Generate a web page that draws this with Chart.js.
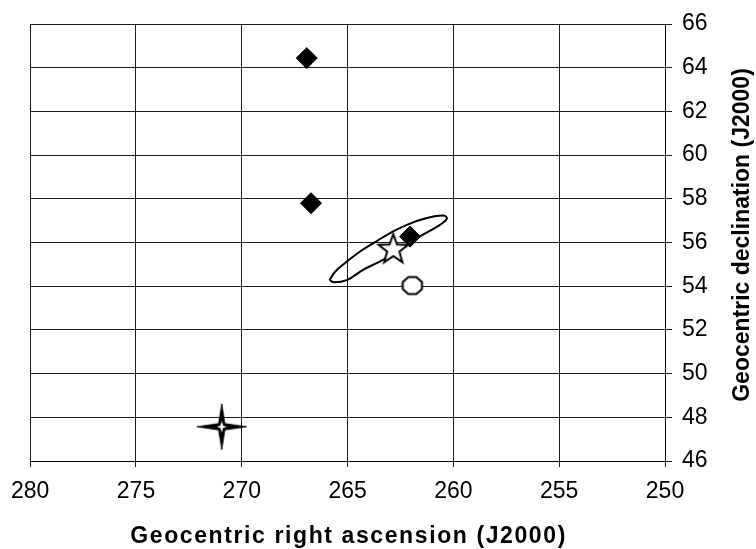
<!DOCTYPE html>
<html>
<head>
<meta charset="utf-8">
<script src="https://cdn.jsdelivr.net/npm/chart.js@4.4.1/dist/chart.umd.min.js"></script>
<style>
  html, body { margin: 0; padding: 0; background: #fff; }
  #wrap { width: 756px; height: 549px; }
</style>
</head>
<body>
<div id="wrap"><canvas id="c" width="756" height="549"></canvas></div>
<script>
// ---- data ----
const raTicks = [280, 275, 270, 265, 260, 255, 250];
const decTicks = [66, 64, 62, 60, 58, 56, 54, 52, 50, 48, 46];

const diamondRA  = [266.93, 266.73, 262.05];
const diamondDec = [64.44, 57.80, 56.27];

const starRA  = [262.84];
const starDec = [55.74];

const octRA  = [261.94];
const octDec = [54.03];

const crossRA  = [270.95];
const crossDec = [47.57];

const ellipseRA  = [265.85, 265.59, 265.12, 264.41, 263.70, 262.99, 262.20, 261.26, 260.47, 260.31, 260.63, 261.58, 262.52, 263.46, 264.25, 265.04, 265.64, 265.85];
const ellipseDec = [54.28, 54.66, 55.06, 55.59, 56.02, 56.43, 56.81, 57.12, 57.24, 57.09, 56.81, 56.28, 55.67, 55.14, 54.76, 54.28, 54.18, 54.28];

const xTitle = 'Geocentric right ascension (J2000)';
const yTitle = 'Geocentric declination (J2000)';

// ---- helpers ----
function pts(xs, ys) { return xs.map((x, i) => ({ x: x, y: ys[i] })); }

function makeCanvas(w, h, drawFn) {
  const cv = document.createElement('canvas');
  cv.width = w; cv.height = h;
  const g = cv.getContext('2d');
  drawFn(g, w / 2, h / 2);
  return cv;
}

function fourStar(g, cx, cy, Rx, Ry, r) {
  g.beginPath();
  g.moveTo(cx, cy - Ry);
  g.lineTo(cx + r, cy - r);
  g.lineTo(cx + Rx, cy);
  g.lineTo(cx + r, cy + r);
  g.lineTo(cx, cy + Ry);
  g.lineTo(cx - r, cy + r);
  g.lineTo(cx - Rx, cy);
  g.lineTo(cx - r, cy - r);
  g.closePath();
}

// 5-point outlined star
const starImg = makeCanvas(36, 36, (g, cx, cy) => {
  const R = 15.5, r = 6.4;
  g.beginPath();
  for (let i = 0; i < 10; i++) {
    const rad = (i % 2 === 0) ? R : r;
    const a = -Math.PI / 2 + i * Math.PI / 5;
    const px = cx + rad * Math.cos(a), py = cy + 1.5 + rad * Math.sin(a);
    if (i === 0) g.moveTo(px, py); else g.lineTo(px, py);
  }
  g.closePath();
  g.fillStyle = '#fff'; g.fill();
  g.lineWidth = 2; g.strokeStyle = '#000'; g.lineJoin = 'miter'; g.stroke();
});

// octagon
const octImg = makeCanvas(24, 22, (g, cx, cy) => {
  const rx = 9.6, ry = 8.6;
  g.beginPath();
  for (let i = 0; i < 8; i++) {
    const a = Math.PI / 8 + i * Math.PI / 4;
    const px = cx + rx * Math.cos(a) / Math.cos(Math.PI / 8);
    const py = cy + ry * Math.sin(a) / Math.cos(Math.PI / 8);
    if (i === 0) g.moveTo(px, py); else g.lineTo(px, py);
  }
  g.closePath();
  g.fillStyle = '#fff'; g.fill();
  g.lineWidth = 2; g.strokeStyle = '#000'; g.stroke();
});

// thin 4-point star: black arms, small white centre
const crossImg = makeCanvas(54, 50, (g, cx, cy) => {
  fourStar(g, cx, cy, 25, 23, 3.2);
  g.fillStyle = '#000'; g.fill();
  g.lineWidth = 0.8; g.strokeStyle = '#000'; g.stroke();
  fourStar(g, cx, cy, 5, 6, 1.3);
  g.fillStyle = '#fff'; g.fill();
});

const FONT = "'Liberation Sans', Arial, sans-serif";

const titlesPlugin = {
  id: 'titles',
  afterDraw(chart) {
    const ctx = chart.ctx;
    const area = chart.chartArea;
    // x-axis title
    ctx.save();
    ctx.font = "bold 23px " + FONT;
    ctx.fillStyle = '#000';
    ctx.textAlign = 'center';
    ctx.textBaseline = 'middle';
    try { ctx.letterSpacing = '1.6px'; } catch (e) {}
    ctx.fillText(xTitle, (area.left + area.right) / 2 + 1, 537);
    ctx.restore();
    // y-axis title (reads bottom to top)
    ctx.save();
    ctx.translate(743, 235);
    ctx.rotate(-Math.PI / 2);
    ctx.font = "bold 23px " + FONT;
    ctx.fillStyle = '#000';
    ctx.textAlign = 'center';
    ctx.textBaseline = 'middle';
    ctx.fillText(yTitle, 0, 0);
    ctx.restore();
  }
};

new Chart(document.getElementById('c'), {
  type: 'scatter',
  data: {
    datasets: [
      { label: 'star', data: pts(starRA, starDec), pointStyle: starImg, order: 0 },
      { label: 'diamonds', data: pts(diamondRA, diamondDec), pointStyle: 'rectRot', pointRadius: 10.5,
        backgroundColor: '#000', borderColor: '#000', borderWidth: 1, order: 1 },
      { label: 'octagon', data: pts(octRA, octDec), pointStyle: octImg, order: 2 },
      { label: 'cross', data: pts(crossRA, crossDec), pointStyle: crossImg, order: 3 },
      { label: 'ellipse', data: pts(ellipseRA, ellipseDec), showLine: true, pointRadius: 0,
        borderColor: '#000', borderWidth: 2, tension: 0.4, fill: false, order: 4 }
    ]
  },
  options: {
    responsive: false,
    devicePixelRatio: 1,
    animation: false,
    layout: { padding: { left: 30, top: 24, right: 0, bottom: 0 } },
    plugins: { legend: { display: false }, tooltip: { enabled: false } },
    scales: {
      x: {
        type: 'linear', min: 250, max: 280, reverse: true,
        afterBuildTicks: (s) => { s.ticks = raTicks.map(v => ({ value: v })); },
        afterFit: (s) => { s.height = 88; },
        grid: { color: '#1a1a1a', lineWidth: 1, tickLength: 6, drawTicks: true },
        border: { color: '#000', width: 1 },
        ticks: { color: '#000', font: { family: FONT, size: 23 }, padding: 11, maxRotation: 0 },
        title: { display: false }
      },
      y: {
        type: 'linear', position: 'right', min: 46, max: 66,
        afterBuildTicks: (s) => { s.ticks = decTicks.map(v => ({ value: v })); },
        afterFit: (s) => { s.width = 91; },
        grid: { color: '#1a1a1a', lineWidth: 1, tickLength: 7, drawTicks: true },
        border: { color: '#000', width: 1 },
        ticks: { color: '#000', font: { family: FONT, size: 23 }, padding: 10 }
      }
    }
  },
  plugins: [titlesPlugin]
});
</script>
</body>
</html>
